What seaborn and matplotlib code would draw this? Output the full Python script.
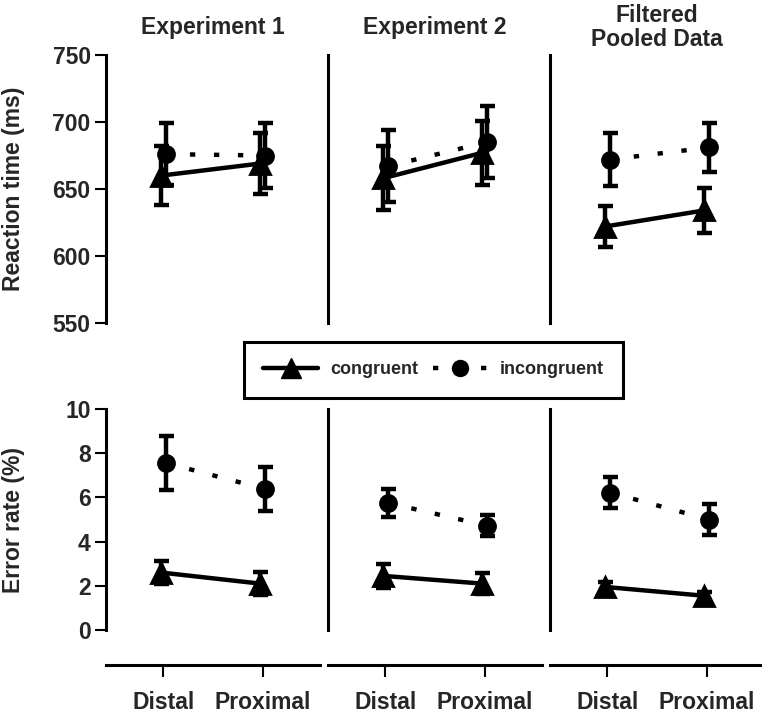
import pandas as pd
import numpy as np
import seaborn as sns
import matplotlib.pyplot as plt
from matplotlib.lines import Line2D

panels = ['Experiment 1', 'Experiment 2', 'Filtered\nPooled Data']
positions = ['Distal', 'Proximal']
conditions = ['congruent', 'incongruent']

# reaction time (ms); per panel: [Distal, Proximal]
rt_cong = [[660, 669], [658, 677], [622, 634]]
rt_cong_err = [[22, 23], [24, 24], [15, 17]]
rt_incong = [[676, 675], [667, 685], [672, 681]]
rt_incong_err = [[23, 24], [27, 27], [20, 18]]

# error rate (%)
er_cong = [[2.6, 2.1], [2.45, 2.1], [1.95, 1.55]]
er_cong_err = [[0.52, 0.52], [0.53, 0.47], [0.2, 0.18]]
er_incong = [[7.56, 6.38], [5.75, 4.72], [6.22, 5.0]]
er_incong_err = [[1.22, 1.0], [0.62, 0.48], [0.7, 0.7]]

rows = []
for p, panel in enumerate(panels):
    for i, pos in enumerate(positions):
        rows.append(dict(panel=panel, position=pos, condition='congruent',
                         rt=rt_cong[p][i], rt_err=rt_cong_err[p][i],
                         er=er_cong[p][i], er_err=er_cong_err[p][i]))
        rows.append(dict(panel=panel, position=pos, condition='incongruent',
                         rt=rt_incong[p][i], rt_err=rt_incong_err[p][i],
                         er=er_incong[p][i], er_err=er_incong_err[p][i]))
df = pd.DataFrame(rows)

sns.set_style("white")
plt.rcParams['font.family'] = ['Liberation Sans', 'DejaVu Sans']
plt.rcParams['font.weight'] = 'bold'
plt.rcParams['axes.labelweight'] = 'bold'

W, H = 762, 722
fig = plt.figure(figsize=(W / 100, H / 100), dpi=100)


def px_axes(left, top, width, height):
    return fig.add_axes([left / W, 1 - (top + height) / H, width / W, height / H])


styles = {
    'congruent': dict(marker='^', markersize=15, linestyle='-'),
    'incongruent': dict(marker='o', markersize=11.5, linestyle=(0, (1.2, 4.2))),
}
FS = 16.5
lefts = [106, 328, 550]
panel_w = 214


def draw(ax, sub, col, errcol):
    sns.pointplot(data=sub, x='position', y=col, hue='condition', order=positions,
                  hue_order=conditions, palette=['black', 'black'], markers=['^', 'o'],
                  linestyles=['-', '-'], dodge=0.05, errorbar=None, legend=False, ax=ax)
    for line in list(ax.lines):
        cond = 'congruent' if line.get_marker() == '^' else 'incongruent'
        st = styles[cond]
        line.set_linewidth(3.2)
        line.set_markersize(st['markersize'])
        line.set_linestyle(st['linestyle'])
        d = sub[sub['condition'] == cond].set_index('position').loc[positions]
        ax.errorbar(line.get_xdata(), d[col], yerr=d[errcol], fmt='none', ecolor='black',
                    elinewidth=3.2, capsize=5.4, capthick=3.2, zorder=5)
    ax.set_xlim(-0.58, 1.58)
    ax.set_xlabel('')
    ax.set_ylabel('')
    for s in ['top', 'right', 'bottom']:
        ax.spines[s].set_visible(False)
    ax.spines['left'].set_linewidth(2.2)
    ax.spines['left'].set_color('black')


for p, panel in enumerate(panels):
    sub = df[df['panel'] == panel]
    ax_rt = px_axes(lefts[p], 55, panel_w, 268)
    draw(ax_rt, sub, 'rt', 'rt_err')
    ax_rt.set_ylim(550, 750)
    ax_rt.set_yticks([550, 600, 650, 700, 750])
    ax_rt.set_xticks([])

    ax_er = px_axes(lefts[p], 409, panel_w, 221)
    draw(ax_er, sub, 'er', 'er_err')
    ax_er.set_ylim(0, 10)
    ax_er.set_yticks([0, 2, 4, 6, 8, 10])
    ax_er.spines['bottom'].set_visible(True)
    ax_er.spines['bottom'].set_position(('outward', 25.2))
    ax_er.spines['bottom'].set_linewidth(2.2)
    ax_er.spines['bottom'].set_color('black')
    ax_er.tick_params(axis='x', bottom=True, direction='out', length=8.6, width=1.5,
                      labelsize=FS, pad=10, color='black')

    for ax in (ax_rt, ax_er):
        if p == 0:
            ax.tick_params(axis='y', left=True, direction='out', length=8, width=1.5,
                           labelsize=FS, pad=3, color='black')
        else:
            ax.tick_params(axis='y', left=False, labelleft=False)

    fig.text((lefts[p] + panel_w / 2) / W, 1 - 27.5 / H, panel, ha='center', va='center',
             fontsize=FS, linespacing=1.05)

fig.text(14 / W, 1 - 189 / H, 'Reaction time (ms)', rotation=90, ha='center', va='center',
         fontsize=FS)
fig.text(14 / W, 1 - 520 / H, 'Error rate (%)', rotation=90, ha='center', va='center',
         fontsize=FS)

handles = [Line2D([], [], color='black', lw=3.2, marker=styles[c]['marker'],
                  markersize=styles[c]['markersize'], linestyle=styles[c]['linestyle'])
           for c in conditions]
leg = fig.legend(handles, conditions, loc='center', bbox_to_anchor=(433.5 / W, 1 - 370 / H),
                 ncol=2, frameon=True, fancybox=False, edgecolor='black', framealpha=1,
                 borderpad=1.1, handlelength=3.0, handletextpad=0.7, columnspacing=0.8,
                 prop=dict(weight='bold', size=13))
leg.get_frame().set_linewidth(2.2)

fig.savefig('out.png', dpi=100)
